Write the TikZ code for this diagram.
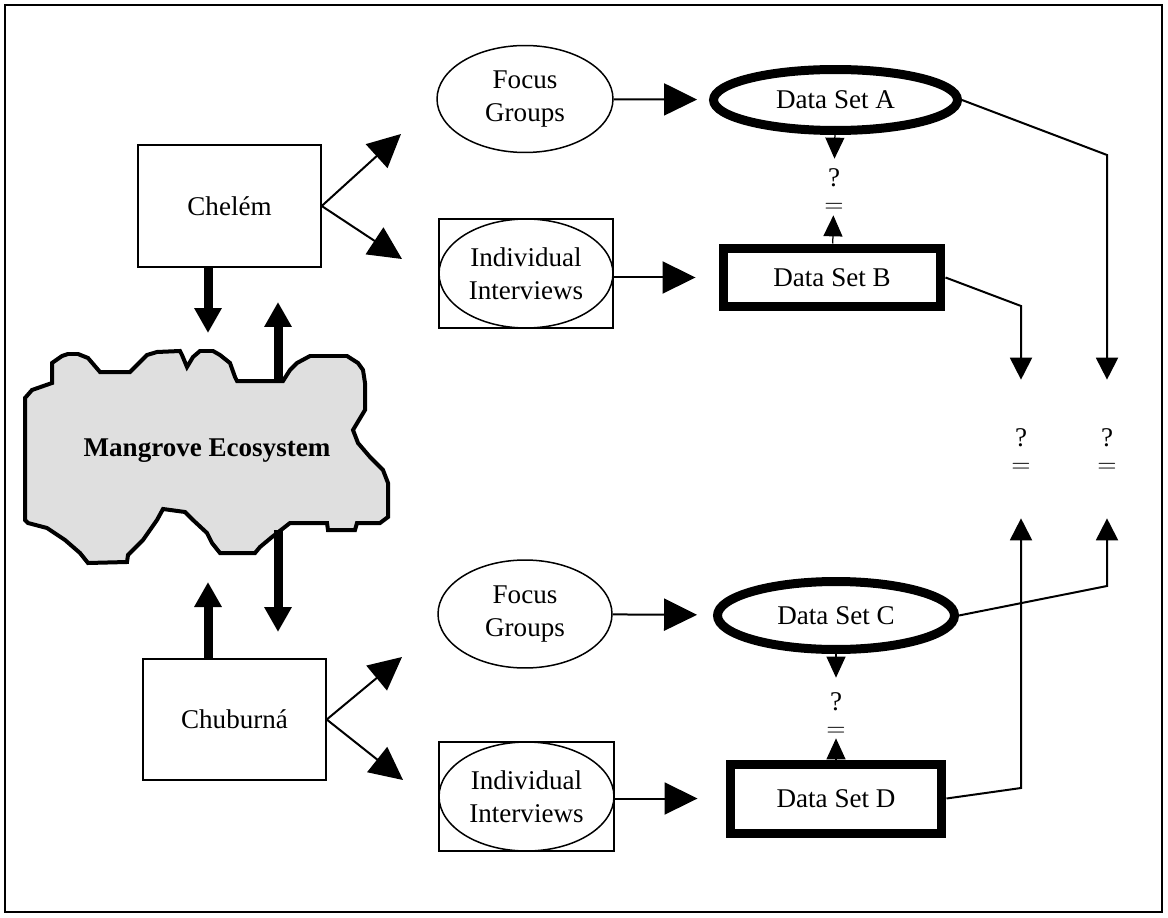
\documentclass[tikz,border=0pt]{standalone}
\usepackage{fontspec}
\setmainfont{Liberation Serif}
\usetikzlibrary{arrows.meta,shapes.geometric}
\newcommand{\qeqsym}[1]{\raisebox{#1}[0pt][0pt]{\begin{tabular}{@{}c@{}}?\\[-4.2pt]$=$\end{tabular}}}

\begin{document}
\begin{tikzpicture}[x=0.02cm,y=-0.02cm,
    font=\fontsize{15.4}{19}\selectfont,
    bigtip/.style={-{Triangle[length=0.66cm,width=0.64cm]},line width=0.04cm},
    smalltip/.style={-{Triangle[length=0.44cm,width=0.44cm]},line width=0.04cm},
    midtip/.style={-{Triangle[length=0.42cm,width=0.38cm]},line width=0.025cm},
    fattip/.style={-{Triangle[length=0.5cm,width=0.52cm]},line width=0.18cm},
    qeq/.style={inner sep=0pt,minimum width=0.5cm}]

\useasboundingbox (0,0) rectangle (1168,918);
\draw[line width=0.03cm] (5,5) rectangle (1162,912);

% the ecosystem cloud
\draw[line width=0.08cm,fill=gray!25,line join=miter]
    (25,398) -- (32,390) -- (52,383) -- (52,363) -- (62,356) -- (68,354) -- (78,354)
    -- (88,358) -- (100,372) -- (130,372) -- (140,362) -- (147,355) -- (157,352)
    -- (180,351) -- (182,355) -- (187,367) -- (193,357) -- (200,351) -- (213,351)
    -- (220,355) -- (230,363) -- (235,377) -- (237,381) -- (283,381) -- (290,370)
    -- (297,363) -- (310,356) -- (347,356) -- (358,363) -- (363,370) -- (365,383)
    -- (365,410) -- (353,430) -- (358,443) -- (370,457) -- (383,470) -- (388,483)
    -- (388,517) -- (380,523) -- (357,523) -- (355,530) -- (328,530) -- (327,523)
    -- (290,523) -- (272,537) -- (260,547) -- (255,553) -- (220,553) -- (212,543)
    -- (207,533) -- (193,520) -- (185,512) -- (163,509) -- (157,520) -- (143,540)
    -- (128,555) -- (127,562) -- (88,563) -- (80,553) -- (65,540) -- (47,528)
    -- (28,523) -- (25,520) -- cycle;
\node[font=\fontsize{15.4}{19}\selectfont\bfseries] (M) at (207,451) {Mangrove Ecosystem};

\begin{scope}[every node/.style={draw,line width=0.03cm,inner sep=0pt}]
    \node[rectangle,minimum width=3.66cm,minimum height=2.44cm] (CH) at (229.5,206) {Chelém};
    \node[rectangle,minimum width=3.66cm,minimum height=2.42cm] (CB) at (234.5,719.5) {Chuburná};
    \node[ellipse,minimum width=3.52cm,minimum height=2.14cm,align=center] (FA) at (525,99) {Focus\\Groups};
    \node[ellipse,minimum width=3.48cm,minimum height=2.16cm,align=center] (FC) at (525,614) {Focus\\Groups};
    \node[rectangle,minimum width=3.48cm,minimum height=2.18cm] (IAbox) at (526,273.5) {};
    \node[ellipse,minimum width=3.48cm,minimum height=2.18cm,align=center] (IA) at (526,273.5) {Individual\\Interviews};
    \node[rectangle,minimum width=3.5cm,minimum height=2.18cm] (ICbox) at (526.5,796.5) {};
    \node[ellipse,minimum width=3.5cm,minimum height=2.18cm,align=center] (IC) at (526.5,796.5) {Individual\\Interviews};
\end{scope}

\begin{scope}[every node/.style={draw,line width=0.18cm,inner sep=0pt}]
    \node[ellipse,minimum width=4.88cm,minimum height=1.22cm] (A) at (835.5,100) {Data Set A};
    \node[rectangle,minimum width=4.36cm,minimum height=1.18cm] (B) at (832,277.5) {Data Set B};
    \node[ellipse,minimum width=4.74cm,minimum height=1.36cm] (C) at (836,615.5) {Data Set C};
    \node[rectangle,minimum width=4.24cm,minimum height=1.38cm] (D) at (836,798.5) {Data Set D};
\end{scope}

\node[qeq,minimum height=1.12cm] (AB) at (834,187) {\qeqsym{-0.25cm}};
\node[qeq,minimum height=1.2cm] (CD) at (836,708) {\qeqsym{-0.30cm}};
\node[qeq,minimum height=2.76cm] (R1) at (1021,449) {\qeqsym{-0.21cm}};
\node[qeq,minimum height=2.76cm] (R2) at (1107,449) {\qeqsym{-0.21cm}};

% free ends
\coordinate (CHf) at (401,134);
\coordinate (CHi) at (402,259);
\coordinate (CBf) at (402,657);
\coordinate (CBi) at (403,780);
\coordinate (CHm) at (208,333);
\coordinate (Mt) at (278,382);
\coordinate (MCH) at (278,302);
\coordinate (CBm) at (208,582);
\coordinate (Mb) at (278,530);
\coordinate (MCB) at (278,632);

\draw[fattip] (CH.south -| CHm) -- (CHm);
\draw[fattip] (Mt) -- (MCH);
\draw[fattip] (CB.north -| CBm) -- (CBm);
\draw[fattip] (Mb) -- (MCB);

\draw[bigtip] (CH.east) -- (CHf);
\draw[bigtip] (CH.east) -- (CHi);
\draw[bigtip] (CB.east) -- (CBf);
\draw[bigtip] (CB.east) -- (CBi);

\draw[bigtip,shorten >=0.24cm] (FA) -- (A);
\draw[bigtip,shorten >=0.46cm] (IAbox.east |- B) -- (B);
\draw[bigtip,shorten >=0.32cm] (FC) -- (C);
\draw[bigtip,shorten >=0.56cm] (ICbox.east |- D) -- (D);

\draw[midtip] (A) -- (AB);
\draw[midtip] (B) -- (AB);
\draw[midtip] (C) -- (CD);
\draw[midtip] (D) -- (CD);

\draw[smalltip] (A.east) -- (R2 |- 0,155) -- (R2);
\draw[smalltip] (B.east) -- (R1 |- 0,306) -- (R1);
\draw[smalltip] (C.east) -- (R2 |- 0,586) -- (R2);
\draw[smalltip] (D.east) -- (R1 |- 0,788) -- (R1);
\end{tikzpicture}
\end{document}
